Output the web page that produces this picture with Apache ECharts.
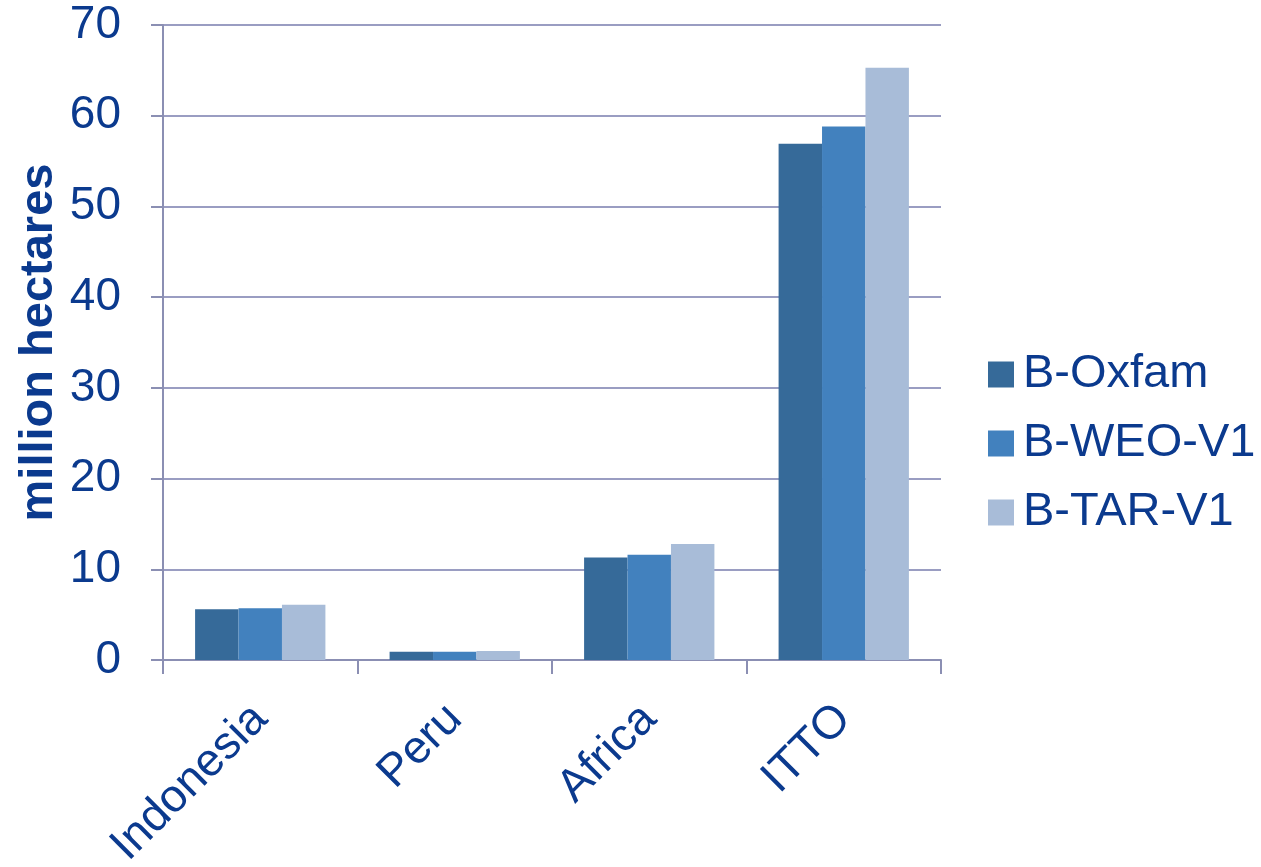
<!DOCTYPE html>
<html>
<head>
<meta charset="utf-8">
<script src="https://cdn.jsdelivr.net/npm/echarts@6/dist/echarts.min.js"></script>
<style>
  html, body { margin: 0; padding: 0; background: #fff; }
  #chart { width: 1261px; height: 867px; }
</style>
</head>
<body>
<div id="chart"></div>
<script>
const categories = ['Indonesia', 'Peru', 'Africa', 'ITTO'];
const seriesNames = ['B-Oxfam', 'B-WEO-V1', 'B-TAR-V1'];
const oxfam = [5.6, 0.9, 11.3, 56.9];
const weoV1 = [5.7, 0.9, 11.6, 58.8];
const tarV1 = [6.1, 1.0, 12.8, 65.3];
const colors = ['#366a99', '#4281be', '#a8bcd8'];

const textColor = '#0b3a8e';
const axisColor = '#8b8fb3';
const font = 'Liberation Sans, Arial, sans-serif';

const chart = echarts.init(document.getElementById('chart'));

const values = [oxfam, weoV1, tarV1];

chart.setOption({
    animation: false,
    color: colors,
    grid: { left: 163, right: 320, top: 25, bottom: 207, containLabel: false, outerBoundsMode: 'none' },
    legend: {
        orient: 'vertical',
        left: 983,
        top: 346,
        itemWidth: 26,
        itemHeight: 26,
        itemGap: 22,
        icon: 'rect',
        textStyle: { fontFamily: font, fontSize: 47, color: textColor, padding: [0, 0, 0, 4] },
        data: seriesNames
    },
    xAxis: {
        type: 'category',
        data: categories,
        axisLine: { lineStyle: { color: axisColor, width: 2 } },
        axisTick: { show: true, length: 14, interval: 0, lineStyle: { color: axisColor, width: 2 } },
        axisLabel: {
            rotate: 45,
            interval: 0,
            margin: 52,
            fontFamily: font,
            fontSize: 46,
            color: textColor
        }
    },
    yAxis: {
        type: 'value',
        min: 0,
        max: 70,
        interval: 10,
        name: 'million hectares',
        nameLocation: 'middle',
        nameGap: 100,
        nameMoveOverlap: false,
        nameTextStyle: { fontFamily: font, fontSize: 47, fontWeight: 'bold', color: textColor },
        axisLine: { show: true, lineStyle: { color: axisColor, width: 2 } },
        axisTick: { show: true, length: 12, lineStyle: { color: axisColor, width: 2 } },
        axisLabel: { fontFamily: font, fontSize: 46, color: textColor, margin: 42 },
        splitLine: { lineStyle: { color: '#9a9dc2', width: 2 } }
    },
    series: seriesNames.map((name, i) => ({
        name: name,
        type: 'bar',
        data: values[i],
        barGap: '0%',
        barCategoryGap: '33%',
        itemStyle: { color: colors[i] }
    }))
});
</script>
</body>
</html>
